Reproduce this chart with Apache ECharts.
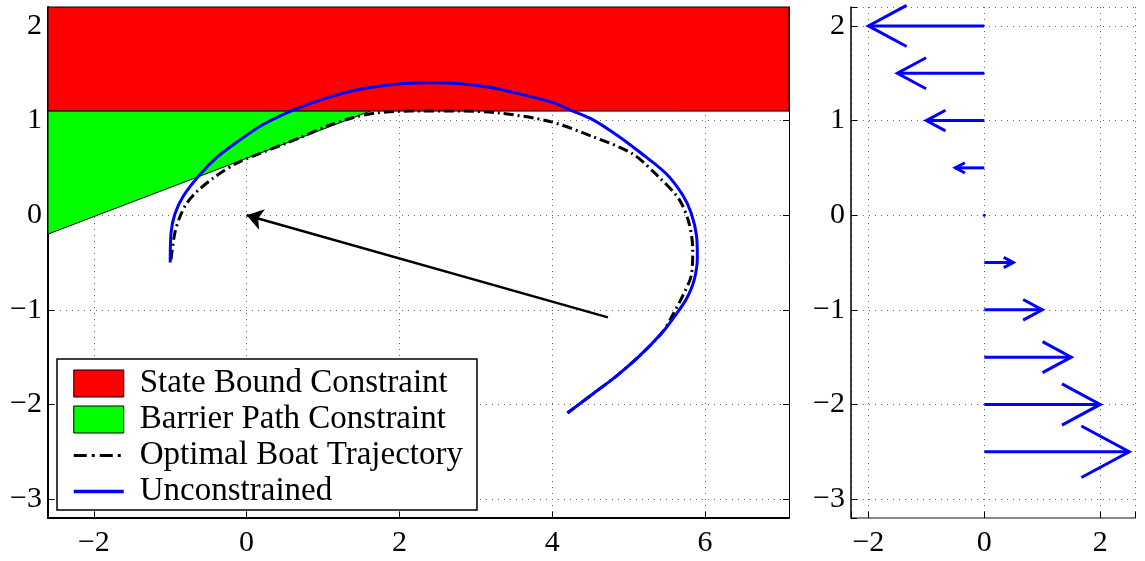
<!DOCTYPE html>
<html>
<head>
<meta charset="utf-8">
<script src="https://cdn.jsdelivr.net/npm/echarts@6/dist/echarts.min.js"></script>
<style>
html,body{margin:0;padding:0;background:#fff;}
#chart{width:1145px;height:561px;}
</style>
</head>
<body>
<div id="chart"></div>
<script>
// ---- data ----
const xRangeLeft = [-2.6, 7.1];
const yRange = [-3.2, 2.2];
const xRangeRight = [-2.3, 2.6];

const stateBound = [[-2.6, 1.1], [7.1, 1.1], [7.1, 2.2], [-2.6, 2.2]];
const barrierPath = [[-2.6, 1.1], [1.62, 1.1], [-2.6, -0.2]];

const optimalTrajectory = [
  [-0.99,-0.47],[-0.94,-0.19],[-0.87,-0.01],[-0.78,0.13],[-0.65,0.25],[-0.44,0.39],
  [-0.13,0.55],[0.17,0.65],[0.70,0.82],[1.05,0.94],[1.39,1.03],[1.70,1.08],
  [2.13,1.10],[2.57,1.10],[2.83,1.10],[3.31,1.08],[3.97,0.99],[4.53,0.83],
  [5.05,0.65],[5.40,0.40],[5.66,0.17],[5.79,-0.08],[5.84,-0.36],[5.82,-0.64],
  [5.71,-0.85],[5.58,-1.05],[5.44,-1.24],[5.14,-1.49],[4.84,-1.70],[4.53,-1.89],[4.20,-2.09]
];
const unconstrained = [
  [-1.00,-0.50],[-0.99,-0.19],[-0.94,0.01],[-0.83,0.20],[-0.61,0.43],[-0.39,0.61],
  [-0.13,0.77],[0.20,0.95],[0.61,1.11],[1.05,1.24],[1.48,1.33],[1.92,1.38],
  [2.35,1.40],[2.79,1.39],[3.20,1.35],[3.53,1.29],[4.01,1.19],[4.27,1.10],
  [4.53,1.01],[4.84,0.85],[5.14,0.67],[5.49,0.44],[5.71,0.21],
  [5.82,0.02],[5.89,-0.22],[5.90,-0.45],[5.86,-0.68],[5.76,-0.88],[5.62,-1.05],
  [5.44,-1.24],[5.14,-1.49],[4.84,-1.70],[4.53,-1.89],[4.20,-2.09]
];
const directionArrow = [[4.73, -1.08], [0, 0]];

const quiverX = [0, 0, 0, 0, 0, 0, 0, 0, 0, 0];
const quiverY = [2, 1.5, 1, 0.5, 0, -0.5, -1, -1.5, -2, -2.5];
const quiverU = [-2, -1.5, -1, -0.5, 0, 0.5, 1, 1.5, 2, 2.5];
const quiverV = [0, 0, 0, 0, 0, 0, 0, 0, 0, 0];

const legendNames = ['State Bound Constraint', 'Barrier Path Constraint', 'Optimal Boat Trajectory', 'Unconstrained'];

// ---- chart ----
const FONT = 'Liberation Serif';
const fmt = v => (Math.abs(v - Math.round(v)) > 1e-6) ? '' : String(Math.round(v)).replace('-', '\u2212');
const gridLine = {show: true, lineStyle: {color: '#666', type: [1, 5], width: 1}};
const lbl = {fontFamily: FONT, fontSize: 30, color: '#000', formatter: fmt};
const hiddenSymbol = {color: 'rgba(0,0,0,0)', borderWidth: 0, opacity: 0};

function polySeries(name, pts, color) {
  return {
    type: 'custom', name: name, xAxisIndex: 0, yAxisIndex: 0, z: 1, silent: true,
    data: pts,
    renderItem: function (params, api) {
      if (params.dataIndex !== 0) return null;
      return {
        type: 'polygon',
        shape: {points: pts.map(p => api.coord(p))},
        style: {fill: color, stroke: '#000', lineWidth: 1}
      };
    }
  };
}

const chart = echarts.init(document.getElementById('chart'), null, {renderer: 'canvas'});
chart.setOption({
  animation: false,
  backgroundColor: '#fff',
  grid: [
    {left: 48, top: 7, width: 741, height: 511},
    {left: 851, top: 7, width: 284, height: 511}
  ],
  xAxis: [
    {gridIndex: 0, type: 'value', min: xRangeLeft[0], max: xRangeLeft[1], position: 'bottom',
     axisLine: {show: true, onZero: false, lineStyle: {color: '#000', width: 2}},
     axisTick: {show: true, inside: true, length: 6, lineStyle: {color: '#000'}},
     axisLabel: Object.assign({margin: 10}, lbl), splitLine: gridLine},
    {gridIndex: 0, type: 'value', min: xRangeLeft[0], max: xRangeLeft[1], position: 'top',
     axisLine: {show: true, onZero: false, lineStyle: {color: '#333', width: 1}},
     axisTick: {show: true, inside: true, length: 6, lineStyle: {color: '#000'}},
     axisLabel: {show: false}, splitLine: {show: false}},
    {gridIndex: 1, type: 'value', min: xRangeRight[0], max: xRangeRight[1], splitNumber: 2, position: 'bottom',
     axisLine: {show: true, onZero: false, lineStyle: {color: '#888', width: 2}},
     axisTick: {show: true, inside: true, length: 6, lineStyle: {color: '#000'}},
     axisLabel: Object.assign({margin: 10}, lbl), splitLine: gridLine}
  ],
  yAxis: [
    {gridIndex: 0, type: 'value', min: yRange[0], max: yRange[1], position: 'left',
     axisLine: {show: true, onZero: false, lineStyle: {color: '#000', width: 2}},
     axisTick: {show: true, inside: true, length: 6, lineStyle: {color: '#000'}},
     axisLabel: Object.assign({margin: 6}, lbl), splitLine: gridLine},
    {gridIndex: 0, type: 'value', min: yRange[0], max: yRange[1], position: 'right',
     axisLine: {show: true, onZero: false, lineStyle: {color: '#000', width: 1}},
     axisTick: {show: true, inside: true, length: 6, lineStyle: {color: '#000'}},
     axisLabel: {show: false}, splitLine: {show: false}},
    {gridIndex: 1, type: 'value', min: yRange[0], max: yRange[1], position: 'left',
     axisLine: {show: true, onZero: false, lineStyle: {color: '#000', width: 1.5}},
     axisTick: {show: true, inside: true, length: 6, lineStyle: {color: '#000'}},
     axisLabel: Object.assign({margin: 6}, lbl), splitLine: gridLine}
  ],
  legend: {
    left: 57, top: 359, orient: 'vertical',
    backgroundColor: '#fff', borderColor: '#000', borderWidth: 1.5,
    padding: [8, 14, 2, 15], itemGap: 3, itemWidth: 50, itemHeight: 27,
    textStyle: {fontFamily: FONT, fontSize: 33, color: '#000', padding: [0, 0, 0, 11]},
    data: [
      {name: legendNames[0], icon: 'rect', itemStyle: {color: '#ff0000', borderColor: '#000', borderWidth: 1}},
      {name: legendNames[1], icon: 'rect', itemStyle: {color: '#00ff00', borderColor: '#000', borderWidth: 1}},
      {name: legendNames[2], itemStyle: hiddenSymbol, lineStyle: {width: 3, color: '#000', type: [13, 5, 3, 5]}},
      {name: legendNames[3], itemStyle: hiddenSymbol, lineStyle: {width: 3.5, color: '#0000ff'}}
    ],
    selectedMode: false
  },
  series: [
    polySeries(legendNames[0], stateBound, '#ff0000'),
    polySeries(legendNames[1], barrierPath, '#00ff00'),
    {
      type: 'line', name: legendNames[2], xAxisIndex: 0, yAxisIndex: 0, z: 3,
      data: optimalTrajectory, symbol: 'none', smooth: 0.3,
      itemStyle: {color: '#000'},
      lineStyle: {color: '#000', width: 3, type: [10, 4, 2, 4]}
    },
    {
      type: 'line', name: legendNames[3], xAxisIndex: 0, yAxisIndex: 0, z: 4,
      data: unconstrained, symbol: 'none', smooth: 0.3,
      itemStyle: {color: '#0000ff'},
      lineStyle: {color: '#0000ff', width: 3}
    },
    {
      type: 'lines', coordinateSystem: 'cartesian2d', xAxisIndex: 0, yAxisIndex: 0, z: 5,
      symbol: ['none', 'arrow'], symbolSize: 16,
      lineStyle: {color: '#000', width: 2.5, opacity: 1},
      data: [{coords: directionArrow}]
    },
    {
      type: 'custom', xAxisIndex: 2, yAxisIndex: 2, z: 5, silent: true,
      data: quiverY.map((y, i) => [quiverX[i], y, quiverU[i], quiverV[i]]),
      renderItem: function (params, api) {
        const x0 = api.value(0), y0 = api.value(1), u = api.value(2), v = api.value(3);
        const alpha = 0.33, beta = 0.33;
        const st = {stroke: '#0000ff', lineWidth: 3, fill: null};
        if (u === 0 && v === 0) {
          const c = api.coord([x0, y0]);
          return {type: 'circle', shape: {cx: c[0], cy: c[1], r: 1.5}, style: {fill: '#0000ff'}};
        }
        const tail = api.coord([x0, y0]);
        const tip = api.coord([x0 + u, y0 + v]);
        const w1 = api.coord([x0 + u - alpha * (u + beta * v), y0 + v - alpha * (v - beta * u)]);
        const w2 = api.coord([x0 + u - alpha * (u - beta * v), y0 + v - alpha * (v + beta * u)]);
        return {
          type: 'group',
          children: [
            {type: 'polyline', shape: {points: [tail, tip]}, style: st},
            {type: 'polyline', shape: {points: [w1, tip, w2]}, style: st}
          ]
        };
      }
    }
  ]
});
</script>
</body>
</html>
